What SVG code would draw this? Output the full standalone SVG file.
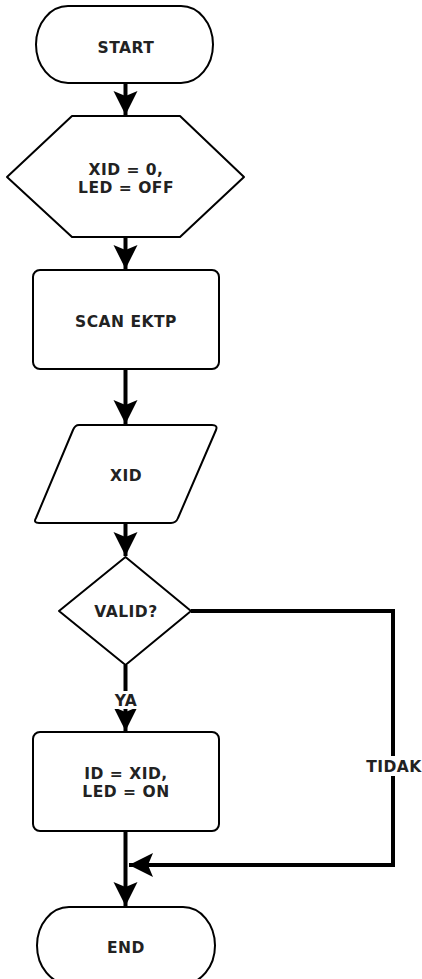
<svg xmlns="http://www.w3.org/2000/svg" width="422" height="979" viewBox="0 0 422 979">
<style>
.shape{fill:#fff;stroke:#000;stroke-width:2;stroke-linejoin:round}
.conn{fill:none;stroke:#000;stroke-width:4;marker-end:url(#arr)}
.t{font-family:"DejaVu Sans","Liberation Sans",sans-serif;font-weight:bold;font-size:15.5px;letter-spacing:0.5px;fill:#222;text-anchor:middle}
.lbl{fill:#fff;stroke:none}
</style>
<defs>
<marker id="arr" markerUnits="userSpaceOnUse" viewBox="-26 -13 28 26" refX="0" refY="0" markerWidth="28" markerHeight="26" orient="auto">
<path d="M0,0 L-24,-12 L-19,0 L-24,12 Z" fill="#000"/>
</marker>
</defs>
<rect width="422" height="979" fill="#fff"/>
<g id="connectors">
<path class="conn" d="M125.5,83 L125.5,115"/>
<path class="conn" d="M125.5,237 L125.5,269"/>
<path class="conn" d="M125.5,369 L125.5,424"/>
<path class="conn" d="M125.5,523 L125.5,556"/>
<path class="conn" d="M125.5,665 L125.5,731"/>
<path class="conn" d="M125.5,831 L125.5,906"/>
<path class="conn" d="M191,611 L393,611 L393,865 L129,865"/>
<rect class="lbl" x="112" y="691" width="28" height="18"/>
<text class="t" x="126" y="706">YA</text>
<rect class="lbl" x="366" y="756" width="56" height="20"/>
<text class="t" x="394" y="772">TIDAK</text>
</g>
<g id="start">
<rect class="shape" x="36" y="6" width="177" height="77" rx="32" ry="38.5"/>
<text class="t" x="126" y="53">START</text>
</g>
<g id="init">
<polygon class="shape" points="72,116 180,116 244,177 180,237 72,237 7,177"/>
<text class="t" x="126" y="175">XID = 0,</text>
<text class="t" x="126" y="193">LED = OFF</text>
</g>
<g id="scan">
<rect class="shape" x="33" y="270" width="186" height="99" rx="7"/>
<text class="t" x="126" y="327">SCAN EKTP</text>
</g>
<g id="input">
<path class="shape" d="M79,425 L212,425 Q218,425 216,430 L178,518 Q176,523 171,523 L39,523 Q33,523 36,518 L73,430 Q75,425 79,425 Z"/>
<text class="t" x="126" y="481">XID</text>
</g>
<g id="decision">
<polygon class="shape" points="125.5,557 191,611 125.5,665 59,611"/>
<text class="t" x="126" y="617">VALID?</text>
</g>
<g id="process">
<rect class="shape" x="33" y="732" width="186" height="99" rx="7"/>
<text class="t" x="126" y="779">ID = XID,</text>
<text class="t" x="126" y="797">LED = ON</text>
</g>
<g id="end">
<rect class="shape" x="37" y="907" width="178" height="77" rx="32" ry="38.5"/>
<text class="t" x="126" y="953">END</text>
</g>
</svg>
